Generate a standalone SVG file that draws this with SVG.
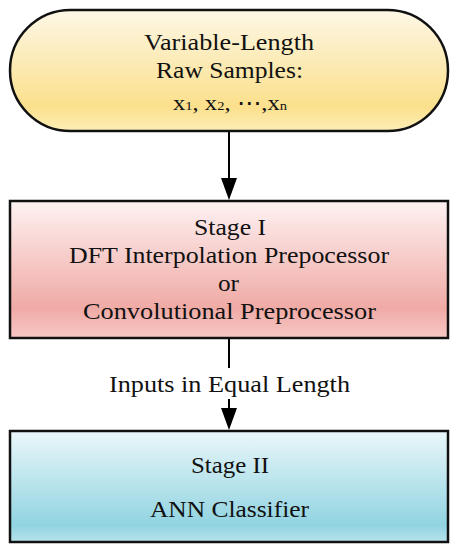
<svg xmlns="http://www.w3.org/2000/svg" width="458" height="550" viewBox="0 0 458 550">
<defs>
<linearGradient id="gY" x1="0" y1="0" x2="0" y2="1">
<stop offset="0" stop-color="#fdf7e6"/>
<stop offset="0.8" stop-color="#fbe08c"/>
<stop offset="1" stop-color="#fdeeb8"/>
</linearGradient>
<linearGradient id="gR" x1="0" y1="0" x2="0" y2="1">
<stop offset="0" stop-color="#fdf2f2"/>
<stop offset="0.78" stop-color="#f0aaa5"/>
<stop offset="1" stop-color="#f6c8c5"/>
</linearGradient>
<linearGradient id="gB" x1="0" y1="0" x2="0" y2="1">
<stop offset="0" stop-color="#eaf7fa"/>
<stop offset="0.85" stop-color="#91d4e1"/>
<stop offset="1" stop-color="#b8e3ec"/>
</linearGradient>
<style>
.box{stroke:#111;stroke-width:2.5}
.t{font-family:"Liberation Serif","Times New Roman",serif;font-size:24px;fill:#111;text-anchor:middle}
.s{font-size:22px}
.c{stroke:#000;stroke-width:2;fill:none}
</style>
</defs>
<g id="connectors">
<line class="c" x1="229" y1="131" x2="229" y2="180"/>
<path d="M221,178 L237,178 L229,200 Z" fill="#000"/>
<line class="c" x1="229" y1="338" x2="229" y2="368"/>
<line class="c" x1="229" y1="399" x2="229" y2="410"/>
<path d="M221,408 L237,408 L229,430 Z" fill="#000"/>
<text class="t" x="229.5" y="392" textLength="241" lengthAdjust="spacingAndGlyphs">Inputs in Equal Length</text>
</g>
<g id="raw-samples">
<rect class="box" x="10" y="10" width="438" height="121" rx="60.5" ry="60.5" fill="url(#gY)"/>
<text class="t" x="229" y="50" textLength="170" lengthAdjust="spacingAndGlyphs">Variable-Length</text>
<text class="t" x="229.5" y="78" textLength="147" lengthAdjust="spacingAndGlyphs">Raw Samples:</text>
<text class="t s" x="230" y="110" textLength="114" lengthAdjust="spacingAndGlyphs">x<tspan font-size="13">1</tspan>, x<tspan font-size="13">2</tspan>, ⋯,x<tspan font-size="13">n</tspan></text>
</g>
<g id="stage1">
<rect class="box" x="10" y="201" width="438" height="137" fill="url(#gR)"/>
<text class="t" x="230" y="235" textLength="72" lengthAdjust="spacingAndGlyphs">Stage I</text>
<text class="t" x="229" y="263" textLength="320" lengthAdjust="spacingAndGlyphs">DFT Interpolation Prepocessor</text>
<text class="t" x="228.5" y="291" textLength="21" lengthAdjust="spacingAndGlyphs">or</text>
<text class="t" x="229.5" y="319" textLength="293" lengthAdjust="spacingAndGlyphs">Convolutional Preprocessor</text>
</g>
<g id="stage2">
<rect class="box" x="10" y="431" width="438" height="111" fill="url(#gB)"/>
<text class="t" x="230" y="473" textLength="78" lengthAdjust="spacingAndGlyphs">Stage II</text>
<text class="t" x="229.5" y="517" textLength="159" lengthAdjust="spacingAndGlyphs">ANN Classifier</text>
</g>
</svg>
